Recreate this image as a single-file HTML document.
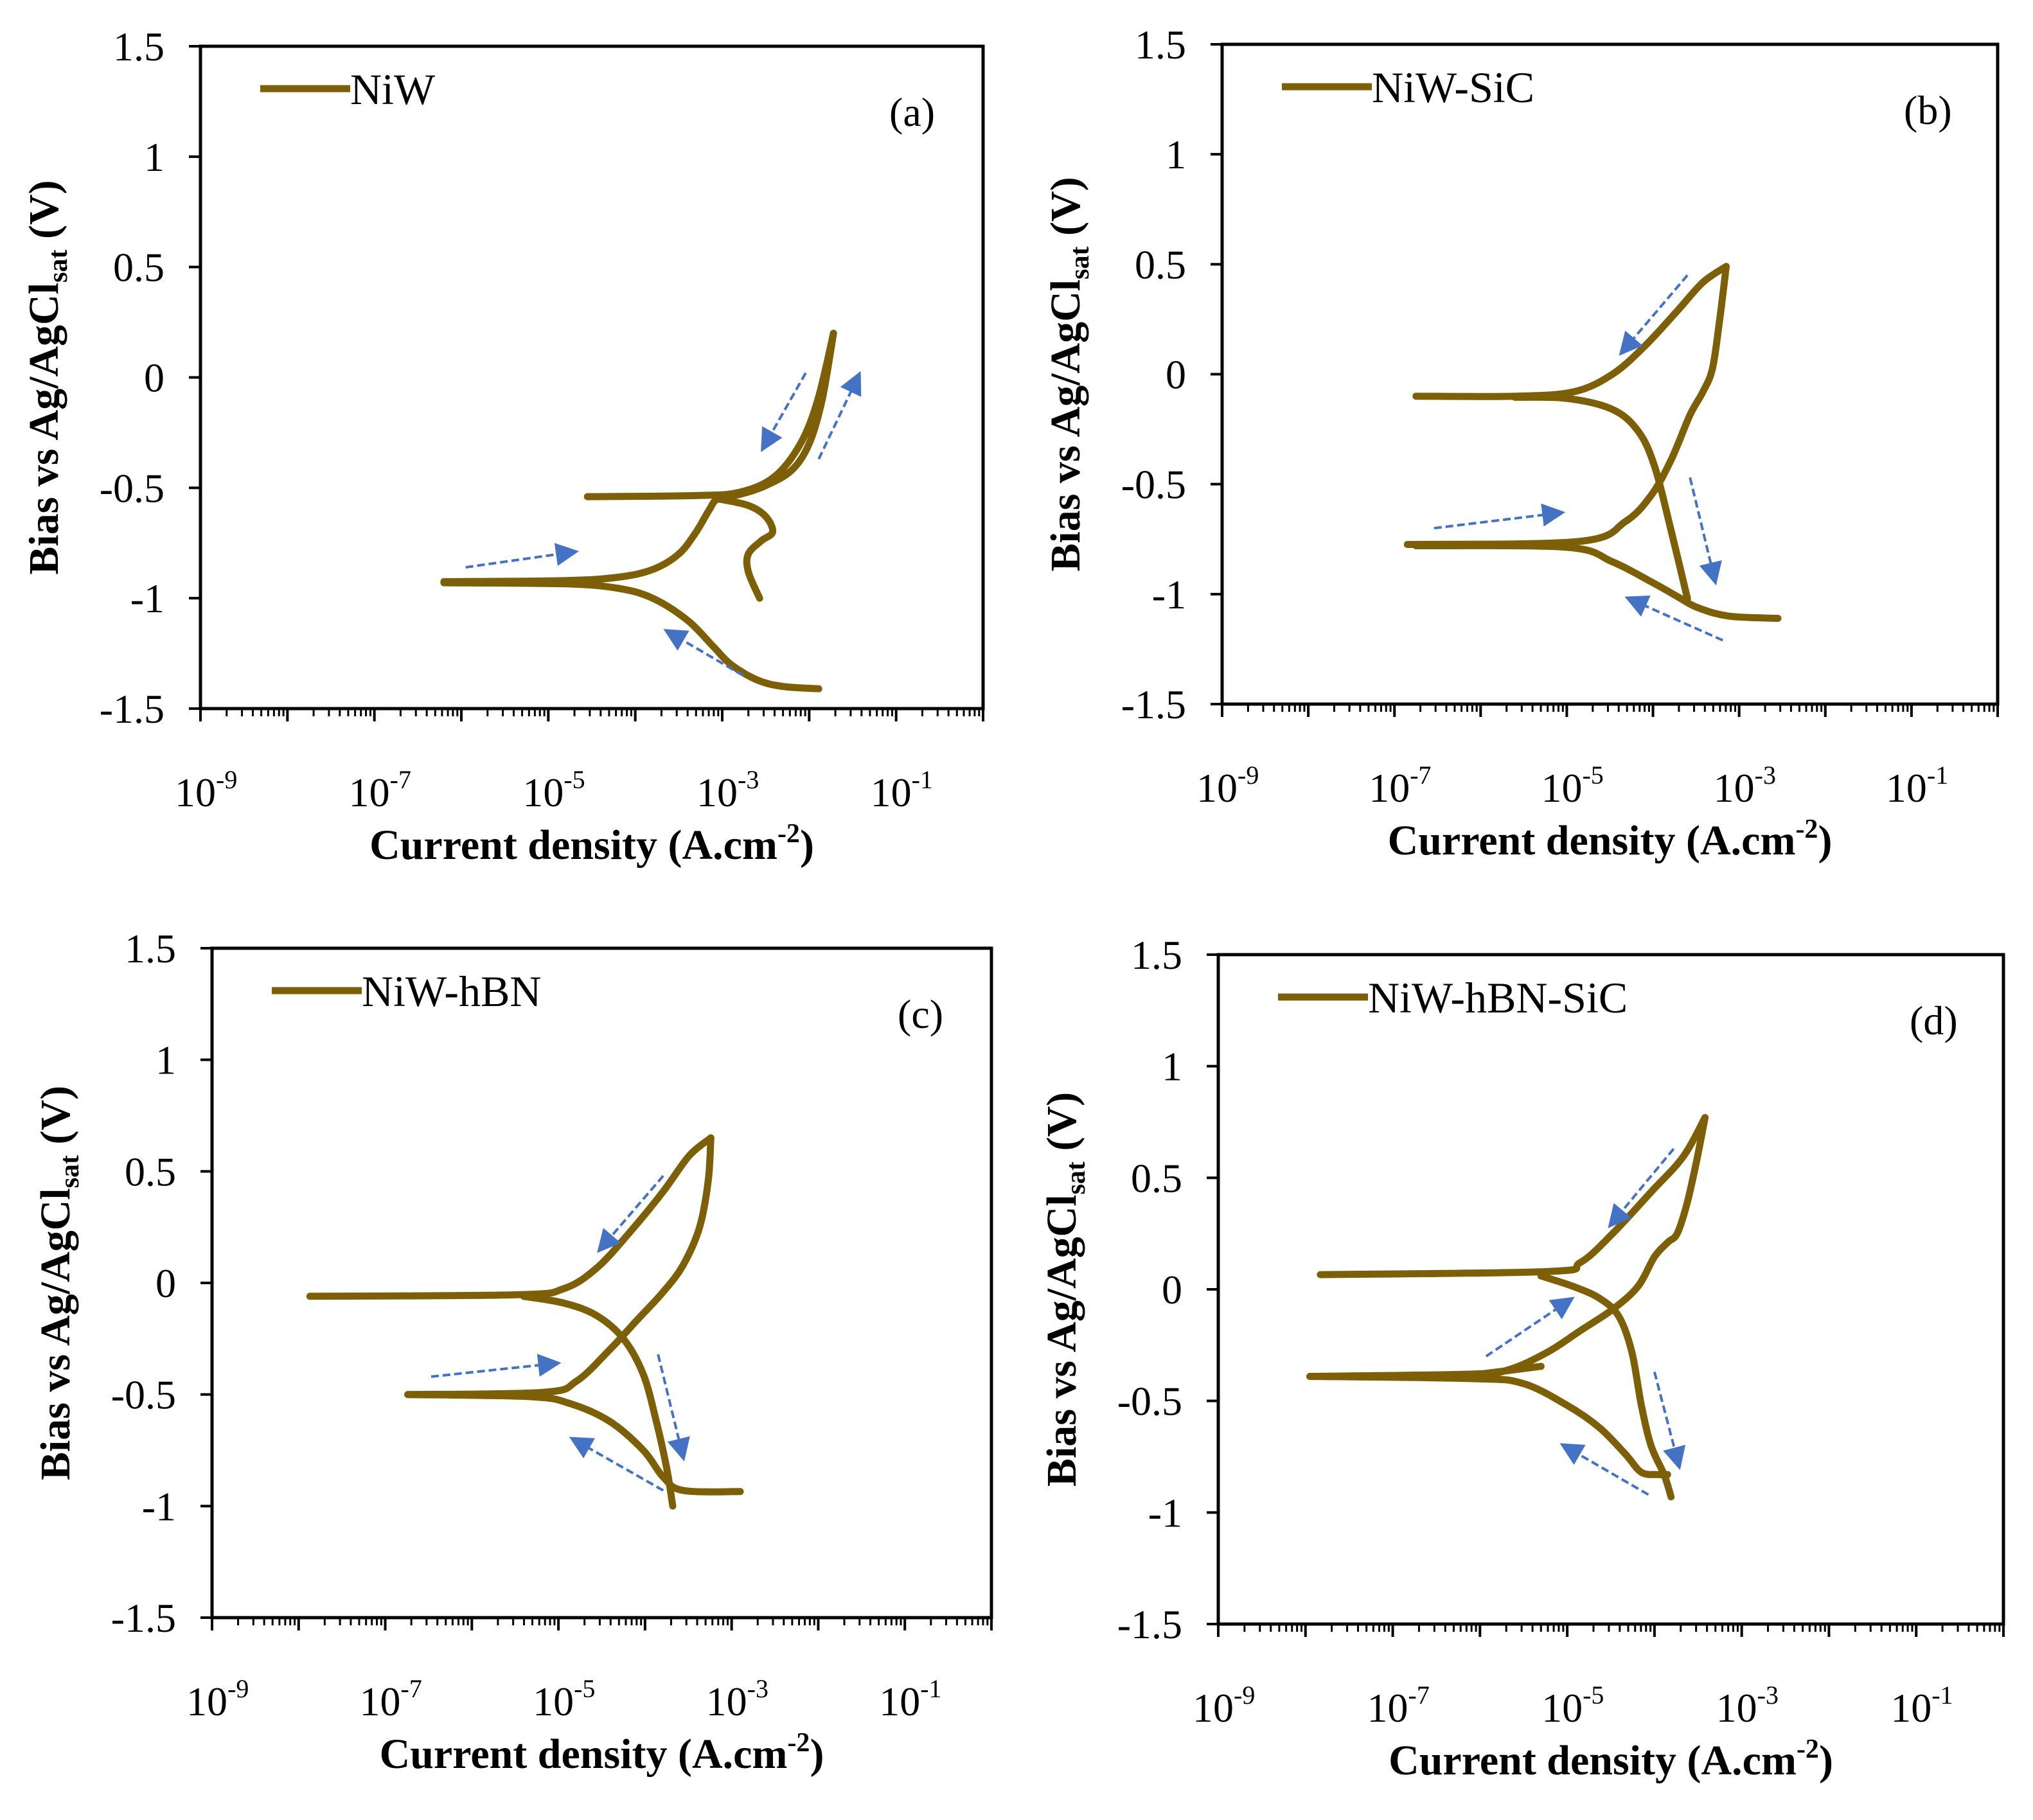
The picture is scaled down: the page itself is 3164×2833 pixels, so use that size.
<!DOCTYPE html>
<html><head><meta charset="utf-8"><style>
html,body{margin:0;padding:0;background:#fff}
svg{display:block}
text{font-family:"Liberation Serif",serif}
</style></head><body>
<svg id="fig" width="3164" height="2833" viewBox="0 0 3164 2833" xmlns="http://www.w3.org/2000/svg"></svg>
<script>
// ---- data (log10 current density, potential V) ----
const panelLabels = ["(a)","(b)","(c)","(d)"];
const legendNames = ["NiW","NiW-SiC","NiW-hBN","NiW-hBN-SiC"];
const xTickExps = [-9,-7,-5,-3,-1];
const yTickVals = [1.5,1,0.5,0,-0.5,-1,-1.5];

// Panel a
const aCathLog = [-1.89,-2.3,-2.6,-2.9,-3.1,-3.4,-3.8,-4.2,-4.8,-6.2];
const aCathE   = [-1.41,-1.40,-1.37,-1.3,-1.22,-1.1,-1.0,-0.955,-0.935,-0.93];
const aAnoLog  = [-6.2,-4.8,-4.2,-3.8,-3.5,-3.3,-3.15,-3.05,-2.8,-2.5,-2.2,-2.0,-1.85,-1.72];
const aAnoE    = [-0.925,-0.92,-0.905,-0.87,-0.8,-0.7,-0.6,-0.55,-0.53,-0.49,-0.42,-0.3,-0.1,0.2];
const aRevLog  = [-1.72,-1.9,-2.1,-2.4,-2.8,-3.3,-4.55];
const aRevE    = [0.2,-0.1,-0.3,-0.45,-0.52,-0.535,-0.54];
const aTailLog = [-3.05,-2.7,-2.5,-2.42,-2.55,-2.7,-2.7,-2.57];
const aTailE   = [-0.55,-0.58,-0.63,-0.7,-0.74,-0.8,-0.88,-1.0];
const aArrowsFrom = [[-5.95,-0.86],[-2.76,-1.35],[-2.04,0.02],[-1.89,-0.37]];
const aArrowsTo   = [[-4.7,-0.79],[-3.63,-1.15],[-2.53,-0.32],[-1.43,0.01]];

// Panel b
const bCathLog = [-6.75,-5.0,-4.47,-4.02,-3.72,-3.49,-3.12,-2.55];
const bCathE   = [-0.78,-0.787,-0.853,-0.944,-1.01,-1.06,-1.10,-1.11];
const bAnoLog  = [-6.85,-4.85,-4.32,-4.02,-3.79,-3.57,-3.42,-3.31,-3.23,-3.15];
const bAnoE    = [-0.774,-0.76,-0.67,-0.55,-0.39,-0.185,-0.08,0.025,0.235,0.49];
const bRevLog  = [-3.15,-3.42,-3.72,-4.09,-4.47,-4.92,-5.6,-6.75];
const bRevE    = [0.49,0.418,0.287,0.13,0.0,-0.08,-0.10,-0.10];
const bDownLog = [-5.6,-5.0,-4.47,-4.17,-3.98,-3.79,-3.6];
const bDownE   = [-0.105,-0.11,-0.16,-0.26,-0.42,-0.71,-1.02];
const bArrowsFrom = [[-3.6,0.45],[-6.54,-0.70],[-3.57,-0.47],[-3.19,-1.21]];
const bArrowsTo   = [[-4.36,0.1],[-5.07,-0.63],[-3.28,-0.94],[-4.28,-1.02]];

// Panel c
const cCathLog = [-6.74,-5.32,-4.87,-4.41,-4.02,-3.79,-3.56,-2.9];
const cCathE   = [-0.5,-0.51,-0.54,-0.62,-0.75,-0.87,-0.93,-0.935];
const cAnoLog  = [-6.74,-5.17,-4.79,-4.41,-4.1,-3.79,-3.56,-3.37,-3.27,-3.24];
const cAnoE    = [-0.5,-0.49,-0.44,-0.30,-0.17,-0.04,0.08,0.25,0.46,0.65];
const cRevLog  = [-3.24,-3.49,-3.79,-4.18,-4.56,-4.94,-5.48,-7.87];
const cRevE    = [0.65,0.57,0.41,0.225,0.066,-0.026,-0.053,-0.06];
const cDownLog = [-5.4,-4.94,-4.56,-4.25,-4.02,-3.87,-3.75,-3.68];
const cDownE   = [-0.06,-0.09,-0.146,-0.25,-0.41,-0.62,-0.83,-1.0];
const cArrowsFrom = [[-3.79,0.48],[-6.47,-0.42],[-3.85,-0.32],[-3.79,-0.93]];
const cArrowsTo   = [[-4.52,0.15],[-5.02,-0.36],[-3.56,-0.78],[-4.83,-0.70]];

// Panel d
const dCathLog = [-7.95,-6.11,-5.52,-5.0,-4.63,-4.33,-4.15,-3.96,-3.85];
const dCathE   = [-0.39,-0.40,-0.42,-0.52,-0.62,-0.74,-0.82,-0.83,-0.83];
const dAnoLog  = [-7.95,-6.11,-5.67,-5.22,-4.85,-4.48,-4.19,-4.0,-3.85,-3.74,-3.63,-3.52,-3.42];
const dAnoE    = [-0.39,-0.38,-0.36,-0.28,-0.185,-0.09,0.013,0.146,0.21,0.25,0.38,0.57,0.77];
const dRevLog  = [-3.42,-3.67,-4.04,-4.48,-4.85,-5.22,-7.83];
const dRevE    = [0.77,0.595,0.436,0.25,0.12,0.08,0.066];
const dDownLog = [-5.3,-4.93,-4.63,-4.41,-4.26,-4.15,-4.04,-3.89,-3.81];
const dDownE   = [0.06,0.013,-0.04,-0.12,-0.28,-0.52,-0.70,-0.83,-0.93];
const dHookLog = [-6.0,-5.3];
const dHookE   = [-0.38,-0.345];
const dArrowsFrom = [[-3.78,0.63],[-5.93,-0.30],[-4.0,-0.37],[-4.07,-0.92]];
const dArrowsTo   = [[-4.5,0.29],[-4.96,-0.045],[-3.72,-0.79],[-5.04,-0.70]];

const panels = [
 {box:[312,72,1530,1103], series:[[aCathLog,aCathE],[aAnoLog,aAnoE],[aRevLog,aRevE],[aTailLog,aTailE]], af:aArrowsFrom, at:aArrowsTo},
 {box:[1902,69,3109,1096], series:[[bCathLog,bCathE],[bAnoLog,bAnoE],[bRevLog,bRevE],[bDownLog,bDownE]], af:bArrowsFrom, at:bArrowsTo},
 {box:[330,1476,1543,2518], series:[[cCathLog,cCathE],[cAnoLog,cAnoE],[cRevLog,cRevE],[cDownLog,cDownE]], af:cArrowsFrom, at:cArrowsTo},
 {box:[1896,1486,3118,2528], series:[[dCathLog,dCathE],[dAnoLog,dAnoE],[dRevLog,dRevE],[dDownLog,dDownE],[dHookLog,dHookE]], af:dArrowsFrom, at:dArrowsTo}
];

const NS="http://www.w3.org/2000/svg";
const svg=document.getElementById('fig');
function mk(tag,attrs,parent){const e=document.createElementNS(NS,tag);for(const k in attrs)e.setAttribute(k,attrs[k]);(parent||svg).appendChild(e);return e;}
const CURVE="#7d5f08", BLUE="#4472c4";
const defs=mk('defs',{});
const mar=mk('marker',{id:'ah',viewBox:'0 0 10 10',refX:'8',refY:'5',markerWidth:'10',markerHeight:'9',orient:'auto',markerUnits:'strokeWidth'},defs);
mk('path',{d:'M0,0 L10,5 L0,10 z',fill:BLUE},mar);

function smoothPath(P){
  if(P.length<3) return 'M'+P.map(p=>p.join(',')).join(' L');
  let d='M'+P[0][0].toFixed(1)+','+P[0][1].toFixed(1);
  for(let i=0;i<P.length-1;i++){
    const p0=P[Math.max(0,i-1)],p1=P[i],p2=P[i+1],p3=P[Math.min(P.length-1,i+2)];
    const c1=[p1[0]+(p2[0]-p0[0])/6,p1[1]+(p2[1]-p0[1])/6];
    const c2=[p2[0]-(p3[0]-p1[0])/6,p2[1]-(p3[1]-p1[1])/6];
    d+=` C${c1[0].toFixed(1)},${c1[1].toFixed(1)} ${c2[0].toFixed(1)},${c2[1].toFixed(1)} ${p2[0].toFixed(1)},${p2[1].toFixed(1)}`;
  }
  return d;
}

panels.forEach((p,pi)=>{
  const [L,T,R,B]=p.box;
  const g=mk('g',{});
  
  
  const xs=v=>L+(v+9)/9*(R-L);
  const ys=v=>T+(1.5-v)/3*(B-T);
  const fr=mk('rect',{x:L,y:T,width:R-L,height:B-T,fill:'none',stroke:'#000','stroke-width':5},g);
  
  
  yTickVals.forEach(v=>{
    const y=ys(v);
    mk('line',{x1:L-18,x2:L,y1:y,y2:y,stroke:'#000','stroke-width':4},g);
    const t=mk('text',{x:L-56,y:y+22,'font-size':64,'text-anchor':'end',fill:'#000'},g);
    
    
    t.textContent=String(v);
  });
  for(let d=-9;d<=0;d++){
    const x=xs(d);
    mk('line',{x1:x,x2:x,y1:B,y2:B+20,stroke:'#000','stroke-width':4},g);
    if(d<0) for(let m=2;m<=9;m++){const xm=xs(d+Math.log10(m));mk('line',{x1:xm,x2:xm,y1:B,y2:B+12,stroke:'#000','stroke-width':3},g);}
  }
  xTickExps.forEach(e=>{
    const t=mk('text',{x:xs(e)-40,y:B+152,'font-size':64,fill:'#000'},g);
    
    
    t.textContent='10';
    const s=mk('tspan',{dy:-28,'font-size':40},t);s.textContent=String(e);
  });
  const xt=mk('text',{x:(L+R)/2,y:B+234,'font-size':66,'font-weight':'bold','text-anchor':'middle',fill:'#000'},g);
  
  
  xt.textContent='Current density (A.cm';
  const sp=mk('tspan',{dy:-26,'font-size':42},xt);sp.textContent='-2';
  const sp2=mk('tspan',{dy:26},xt);sp2.textContent=')';
  const cy=(T+B)/2, cx=L-222;
  const yt=mk('text',{x:cx,y:cy,'font-size':66,'font-weight':'bold','text-anchor':'middle',fill:'#000',transform:`rotate(-90 ${cx} ${cy})`},g);
  
  
  yt.textContent='Bias vs Ag/AgCl';
  const sb=mk('tspan',{dy:14,'font-size':42},yt);sb.textContent='sat';
  const sb2=mk('tspan',{dy:-14},yt);sb2.textContent=' (V)';
  const ly=T+66, lx=L+93;
  const ll=mk('line',{x1:lx,x2:lx+140,y1:ly,y2:ly,stroke:CURVE,'stroke-width':11},g);
  
  
  const lt=mk('text',{x:lx+140,y:ly+24,'font-size':68,fill:'#000'},g);
  
  
  lt.textContent=legendNames[pi];
  const pl=mk('text',{x:R-146,y:T+124,'font-size':64,fill:'#000'},g);
  
  
  pl.textContent=panelLabels[pi];
  p.series.forEach(([lg,E])=>{
    const P=lg.map((v,i)=>[xs(v),ys(E[i])]);
    const pe=mk('path',{d:smoothPath(P),fill:'none',stroke:CURVE,'stroke-width':11,'stroke-linejoin':'round','stroke-linecap':'round'},g);
    
    
  });
  p.af.forEach((f,i)=>{
    const t=p.at[i];
    const a=mk('line',{x1:xs(f[0]),y1:ys(f[1]),x2:xs(t[0]),y2:ys(t[1]),stroke:BLUE,'stroke-width':4,'stroke-dasharray':'12 6','marker-end':'url(#ah)'},g);
    
    
  });
});
</script>
</body></html>
